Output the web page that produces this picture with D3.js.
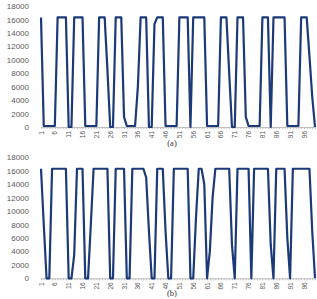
<!DOCTYPE html>
<html>
<head>
<meta charset="utf-8">
<script src="https://cdn.jsdelivr.net/npm/d3@7/dist/d3.min.js"></script>
<style>
  html, body { margin: 0; padding: 0; background: #fff; }
  svg { display: block; }
  .tick text { fill: #595959; font-family: "Liberation Sans", Arial, sans-serif; }
  .caption { fill: #333; font-family: "Liberation Serif", "Times New Roman", serif; font-size: 8.5px; }
</style>
</head>
<body>
<svg id="chart" width="317" height="299"></svg>
<script>
// sample index 1..100
const samples = d3.range(1, 101);
const yTicks = [0, 2000, 4000, 6000, 8000, 10000, 12000, 14000, 16000, 18000];
const xLabels = ['1', '6', '11', '16', '21', '26', '31', '36', '41', '46',
  '51', '56', '61', '66', '71', '76', '81', '86', '91', '96'];

// series
const seriesA = [
  16300, 150, 150, 150, 150, 150, 16300, 16300, 16300, 16300,
  0, 0, 16300, 16300, 16300, 16300, 150, 150, 150, 150,
  150, 16300, 16300, 16300, 8500, 0, 0, 16300, 16300, 16300,
  1500, 150, 150, 150, 150, 6000, 16300, 16300, 16300, 0,
  0, 15300, 16300, 16300, 16300, 150, 150, 150, 150, 150,
  16300, 16300, 16300, 16300, 0, 16300, 16300, 16300, 16300, 16300,
  150, 150, 150, 150, 150, 16300, 16300, 16300, 8000, 0,
  0, 16300, 16300, 16300, 1500, 150, 150, 150, 150, 150,
  16300, 16300, 16300, 0, 16300, 16300, 16300, 16300, 16300, 150,
  150, 150, 150, 150, 16300, 16300, 16300, 10500, 4500, 0
];

// series
const seriesB = [
  16300, 8000, 0, 0, 16300, 16300, 16300, 16300, 16300, 16300,
  0, 0, 3500, 16300, 16300, 16300, 0, 0, 8000, 16300,
  16300, 16300, 16300, 16300, 16300, 0, 0, 16300, 16300, 16300,
  16300, 0, 0, 16300, 16300, 16300, 16300, 16300, 15000, 7000,
  0, 0, 16300, 16300, 16300, 7000, 0, 0, 16300, 16300,
  16300, 16300, 16300, 16300, 0, 0, 9000, 16300, 16300, 14000,
  0, 4000, 12000, 16300, 16300, 16300, 16300, 16300, 16300, 5000,
  0, 16300, 16300, 16300, 16300, 16300, 0, 16300, 16300, 16300,
  16300, 16300, 16300, 5000, 0, 16300, 16300, 16300, 16300, 6000,
  0, 16300, 16300, 16300, 16300, 16300, 16300, 16300, 7000, 0
];

const svg = d3.select('#chart');
const lineColor = '#1c3a78';

const x = d3.scalePoint()
  .domain(samples)
  .range([41, 315]);

function drawPanel(values, top, bottom, caption, captionY) {
  const y = d3.scaleLinear()
    .domain([0, 18000])
    .range([bottom, top]);

  // y axis labels only, no line
  const ya = svg.append('g')
    .attr('transform', 'translate(38,0)')
    .call(d3.axisLeft(y).tickValues(yTicks).tickSize(0).tickPadding(9)
      .tickFormat(d3.format('d')));
  ya.select('.domain').remove();
  ya.selectAll('text').style('font-size', '8px');

  // x axis: small tick at every sample, label every 5th
  const xa = svg.append('g')
    .attr('transform', `translate(0,${bottom})`)
    .call(d3.axisBottom(x).tickSize(2).tickSizeOuter(0)
      .tickFormat(d => xLabels.includes(String(d)) ? String(d) : ''));
  xa.select('.domain').attr('stroke', '#bfbfbf');
  xa.selectAll('.tick line').attr('stroke', '#bfbfbf');
  xa.selectAll('text')
    .style('font-size', '6.5px')
    .attr('text-anchor', 'end')
    .attr('transform', 'rotate(-90)')
    .attr('x', -4)
    .attr('y', 0)
    .attr('dy', '0.32em');

  const line = d3.line()
    .x((d, i) => x(samples[i]))
    .y(d => y(d));

  svg.append('path')
    .datum(values)
    .attr('d', line)
    .attr('fill', 'none')
    .attr('stroke', lineColor)
    .attr('stroke-width', 2.2)
    .attr('stroke-linejoin', 'round');

  svg.append('text')
    .attr('class', 'caption')
    .attr('x', 172)
    .attr('y', captionY)
    .attr('text-anchor', 'middle')
    .text(caption);
}

drawPanel(seriesA, 6, 127, '(a)', 146);
drawPanel(seriesB, 157.3, 278.3, '(b)', 296);
</script>
</body>
</html>
